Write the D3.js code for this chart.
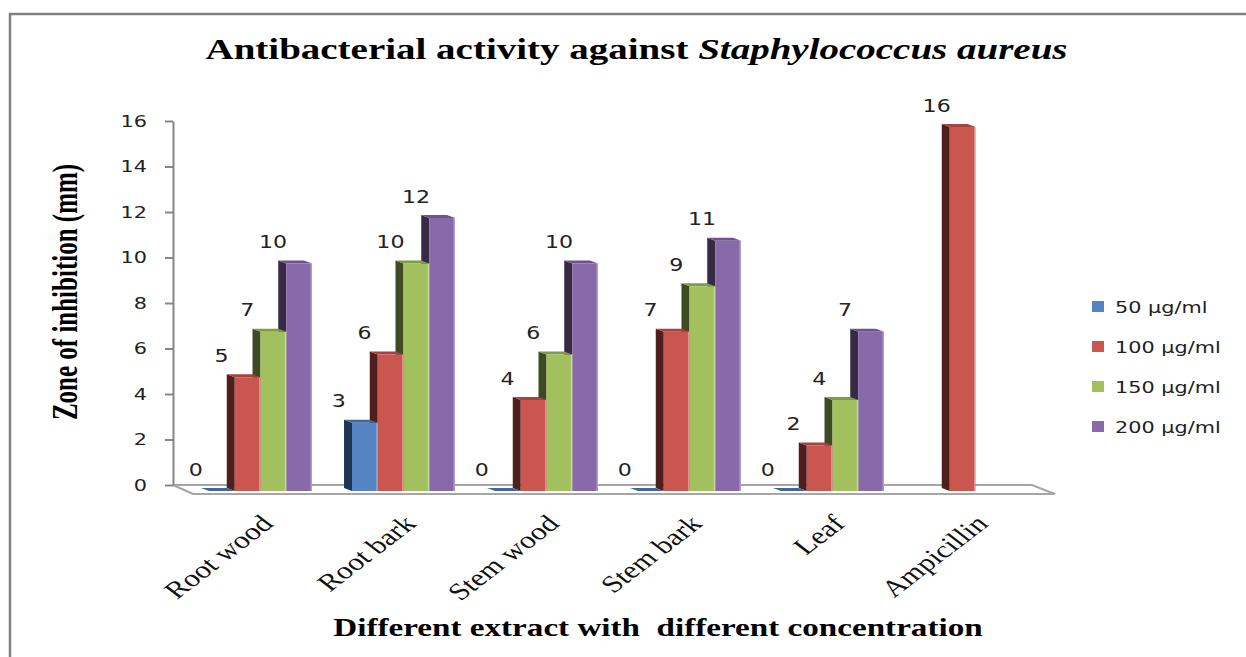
<!DOCTYPE html>
<html>
<head>
<meta charset="utf-8">
<script src="https://cdn.jsdelivr.net/npm/d3@7"></script>
<style>
  body { margin: 0; background: #fff; }
  svg { display: block; }
</style>
</head>
<body>
<div id="chart"></div>
<script>
// data
var categories = ["Root wood", "Root bark", "Stem wood", "Stem bark", "Leaf", "Ampicillin"];
var seriesNames = ["50 \u00b5g/ml", "100 \u00b5g/ml", "150 \u00b5g/ml", "200 \u00b5g/ml"];
var conc50 = [0, 3, 0, 0, 0, null];
var conc100 = [5, 6, 4, 7, 2, 16];
var conc150 = [7, 10, 6, 9, 4, null];
var conc200 = [10, 12, 10, 11, 7, null];
var yTicks = [0, 2, 4, 6, 8, 10, 12, 14, 16];

var seriesValues = [conc50, conc100, conc150, conc200];

var frontColors = ["#5484C4", "#C9574F", "#A2C05E", "#8869AA"];
var sideColors = ["#1F3653", "#4F1F1E", "#3E4B22", "#362A45"];
var topColors = ["#3F6798", "#A4433F", "#809A47", "#6D5490"];

var W = 1246, H = 657;
var SX = 1.3; // the picture's text is stretched sideways
var depthX = -8, depthY = -3, frontDrop = 6;

var svg = d3.select("#chart")
    .append("svg")
    .attr("width", W)
    .attr("height", H);

// frame (only top and left show)
svg.append("path")
    .attr("d", "M10,657 L10,14 L1246,14")
    .attr("fill", "none")
    .attr("stroke", "#808080")
    .attr("stroke-width", 2.5);

var x0 = d3.scaleBand()
    .domain(categories)
    .range([189, 1047])
    .paddingInner(0.28)
    .paddingOuter(0.14);

var x1 = d3.scaleBand()
    .domain(seriesNames)
    .range([0, x0.bandwidth()]);

var y = d3.scaleLinear()
    .domain([0, 16])
    .range([485, 121]);

// floor
var floorL = x0.range()[0] - 16, floorR = x0.range()[1] - 15;
svg.append("path")
    .attr("d", "M" + floorL + "," + y(0) + " L" + floorR + "," + y(0) +
        " L" + (floorR + 23) + "," + (y(0) + 9) + " L" + (floorL + 20) + "," + (y(0) + 9) + " Z")
    .attr("fill", "#fff")
    .attr("stroke", "#A6A6A6")
    .attr("stroke-width", 2);

// Y axis
var yAxis = svg.append("g")
    .attr("transform", "translate(" + floorL + ",0)")
    .call(d3.axisLeft(y).tickValues(yTicks).tickSize(8).tickSizeOuter(0).tickPadding(18));

yAxis.select(".domain").attr("stroke", "#868686").attr("stroke-width", 2);
yAxis.selectAll(".tick line").attr("stroke", "#868686").attr("stroke-width", 2);
yAxis.selectAll(".tick text")
    .attr("x", -26 / SX)
    .attr("transform", "scale(" + SX + ",1)")
    .style("font-family", "DejaVu Sans, sans-serif")
    .style("font-size", "16px")
    .attr("fill", "#222");

// bars, one group per category
var barData = [];
categories.forEach(function (c, ci) {
    seriesNames.forEach(function (s, si) {
        var v = seriesValues[si][ci];
        if (v === null) return;
        barData.push({ cat: c, series: s, si: si, value: v });
    });
});

var groups = svg.selectAll(".cat")
    .data(categories)
    .enter()
    .append("g")
    .attr("class", "cat")
    .attr("transform", function (d) { return "translate(" + x0(d) + ",0)"; });

groups.each(function (c) {
    var g = d3.select(this);
    // draw right to left so the left bar covers the side of the next one
    var bars = barData.filter(function (b) { return b.cat === c; }).reverse();
    bars.forEach(function (b) {
        var xa = x1(b.series), xb = xa + x1.bandwidth();
        var base = y(0) + frontDrop, top = y(b.value) + frontDrop;
        var bar = g.append("g").attr("class", "bar");

        bar.append("path")
            .attr("d", "M" + xa + "," + top + " L" + xa + "," + base +
                " L" + (xa + depthX) + "," + (base + depthY) +
                " L" + (xa + depthX) + "," + (top + depthY) + " Z")
            .attr("fill", sideColors[b.si]);

        bar.append("path")
            .attr("d", "M" + xa + "," + top + " L" + xb + "," + top +
                " L" + (xb + depthX) + "," + (top + depthY) +
                " L" + (xa + depthX) + "," + (top + depthY) + " Z")
            .attr("fill", topColors[b.si]);

        if (b.value > 0) {
            bar.append("rect")
                .attr("x", xa)
                .attr("y", top)
                .attr("width", x1.bandwidth())
                .attr("height", base - top)
                .attr("fill", frontColors[b.si]);
            bar.append("line")
                .attr("x1", xb - 0.75).attr("x2", xb - 0.75)
                .attr("y1", top).attr("y2", base)
                .attr("stroke", "#fff")
                .attr("stroke-opacity", 0.35)
                .attr("stroke-width", 1.5);
        }

        g.append("text")
            .attr("transform", "translate(" + (xa + x1.bandwidth() / 2 - 26) + "," + (top - 21) + ") scale(" + SX + ",1)")
            .attr("text-anchor", "middle")
            .attr("dominant-baseline", "central")
            .style("font-family", "DejaVu Sans, sans-serif")
            .style("font-size", "17px")
            .attr("fill", "#222")
            .text(b.value);
    });
});

// category labels
svg.selectAll(".cat-label")
    .data(categories)
    .enter()
    .append("text")
    .attr("class", "cat-label")
    .attr("transform", function (d) {
        return "translate(" + (x0(d) + x0.bandwidth() / 2 + 14) + ",525) scale(" + SX + ",1) rotate(-45)";
    })
    .attr("text-anchor", "end")
    .style("font-family", "Liberation Serif, serif")
    .style("font-size", "24px")
    .attr("fill", "#111")
    .text(function (d) { return d; });

// titles
var title = svg.append("text")
    .attr("transform", "translate(636.5,59) scale(" + SX + ",1)")
    .attr("text-anchor", "middle")
    .style("font-family", "Liberation Serif, serif")
    .style("font-size", "30px")
    .style("font-weight", "bold")
    .attr("fill", "#000");
title.append("tspan").text("Antibacterial activity against ");
title.append("tspan").style("font-style", "italic").text("Staphylococcus aureus");

svg.append("text")
    .attr("transform", "translate(658,636) scale(" + SX + ",1)")
    .attr("text-anchor", "middle")
    .style("font-family", "Liberation Serif, serif")
    .style("font-size", "25.5px")
    .style("font-weight", "bold")
    .style("white-space", "pre")
    .attr("fill", "#000")
    .text("Different extract with  different concentration");

svg.append("text")
    .attr("transform", "translate(77,292) scale(1.42,1) rotate(-90)")
    .attr("text-anchor", "middle")
    .style("font-family", "Liberation Serif, serif")
    .style("font-size", "25px")
    .style("font-weight", "bold")
    .attr("fill", "#000")
    .text("Zone of inhibition (mm)");

// legend
var legend = svg.selectAll(".legend")
    .data(seriesNames)
    .enter()
    .append("g")
    .attr("class", "legend")
    .attr("transform", function (d, i) { return "translate(1092," + (307 + i * 40) + ")"; });

legend.append("rect")
    .attr("x", 0)
    .attr("y", -6)
    .attr("width", 12)
    .attr("height", 11)
    .attr("fill", function (d, i) { return frontColors[i]; });

legend.append("text")
    .attr("transform", "translate(23,0) scale(" + SX + ",1)")
    .attr("dominant-baseline", "central")
    .style("font-family", "DejaVu Sans, sans-serif")
    .style("font-size", "16px")
    .attr("fill", "#222")
    .text(function (d) { return d; });
</script>
</body>
</html>
